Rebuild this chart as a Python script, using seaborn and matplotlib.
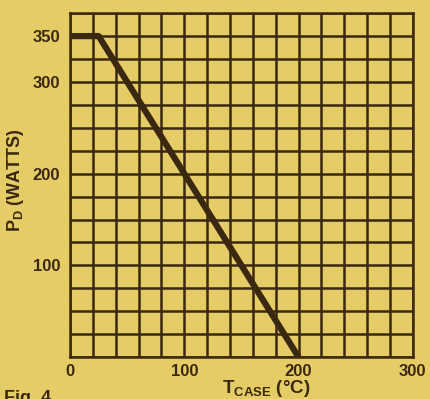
import numpy as np
import pandas as pd
import matplotlib
matplotlib.use("Agg")
import matplotlib.pyplot as plt
import seaborn as sns

# --- DATA (derating curve) ---
t_case = [0, 25, 200]          # deg C
p_d = [350, 350, 0]            # watts
x_ticks = [0, 100, 200, 300]
y_ticks = [100, 200, 300, 350]

BG = '#e6cc66'
INK = '#3b2810'

sns.set_theme(style='white')
plt.rcParams['font.family'] = ['Liberation Sans', 'DejaVu Sans']
plt.rcParams['mathtext.fontset'] = 'custom'
plt.rcParams['mathtext.bf'] = 'Liberation Sans:bold'
plt.rcParams['mathtext.rm'] = 'Liberation Sans'

fig = plt.figure(figsize=(4.30, 3.99), dpi=100, facecolor=BG)
ax = fig.add_axes([0.163, 0.105, 0.797, 0.862], facecolor=BG)

df = pd.DataFrame({'T': t_case, 'P': p_d})
sns.lineplot(data=df, x='T', y='P', ax=ax, color=INK, lw=4.5,
             solid_capstyle='butt', zorder=3)

ax.set_xlim(0, 300)
ax.set_ylim(0, 375)
# keep grid lines where major labels sit
ax.xaxis.remove_overlapping_locs = False
ax.yaxis.remove_overlapping_locs = False
ax.set_xticks(np.arange(0, 301, 20), minor=True)
ax.set_yticks(np.arange(0, 376, 25), minor=True)
ax.set_xticks(x_ticks)
ax.set_yticks(y_ticks)
ax.set_xticklabels([str(v) for v in x_ticks], fontsize=12, fontweight='bold', color=INK)
ax.set_yticklabels([str(v) for v in y_ticks], fontsize=12, fontweight='bold', color=INK)
ax.tick_params(which='both', length=0)
ax.tick_params(axis='x', pad=5)
ax.tick_params(axis='y', pad=7)
ax.grid(which='minor', color=INK, lw=1.8)
ax.grid(which='major', visible=False)
for s in ax.spines.values():
    s.set_color(INK)
    s.set_linewidth(1.8)

ax.set_xlabel(r'$\mathbf{T_{CASE}}$ (°C)', fontsize=13.5, fontweight='bold', color=INK)
ax.set_ylabel(r'$\mathbf{P_D}$ (WATTS)', fontsize=13, fontweight='bold', color=INK)
ax.xaxis.set_label_coords(0.571, -0.062)
ax.yaxis.set_label_coords(-0.13, 0.515)

fig.text(0.01, 0.022, 'Fig. 4', fontsize=13, fontweight='bold', color=INK, va='top')

fig.savefig('out.png', dpi=100, facecolor=BG)
